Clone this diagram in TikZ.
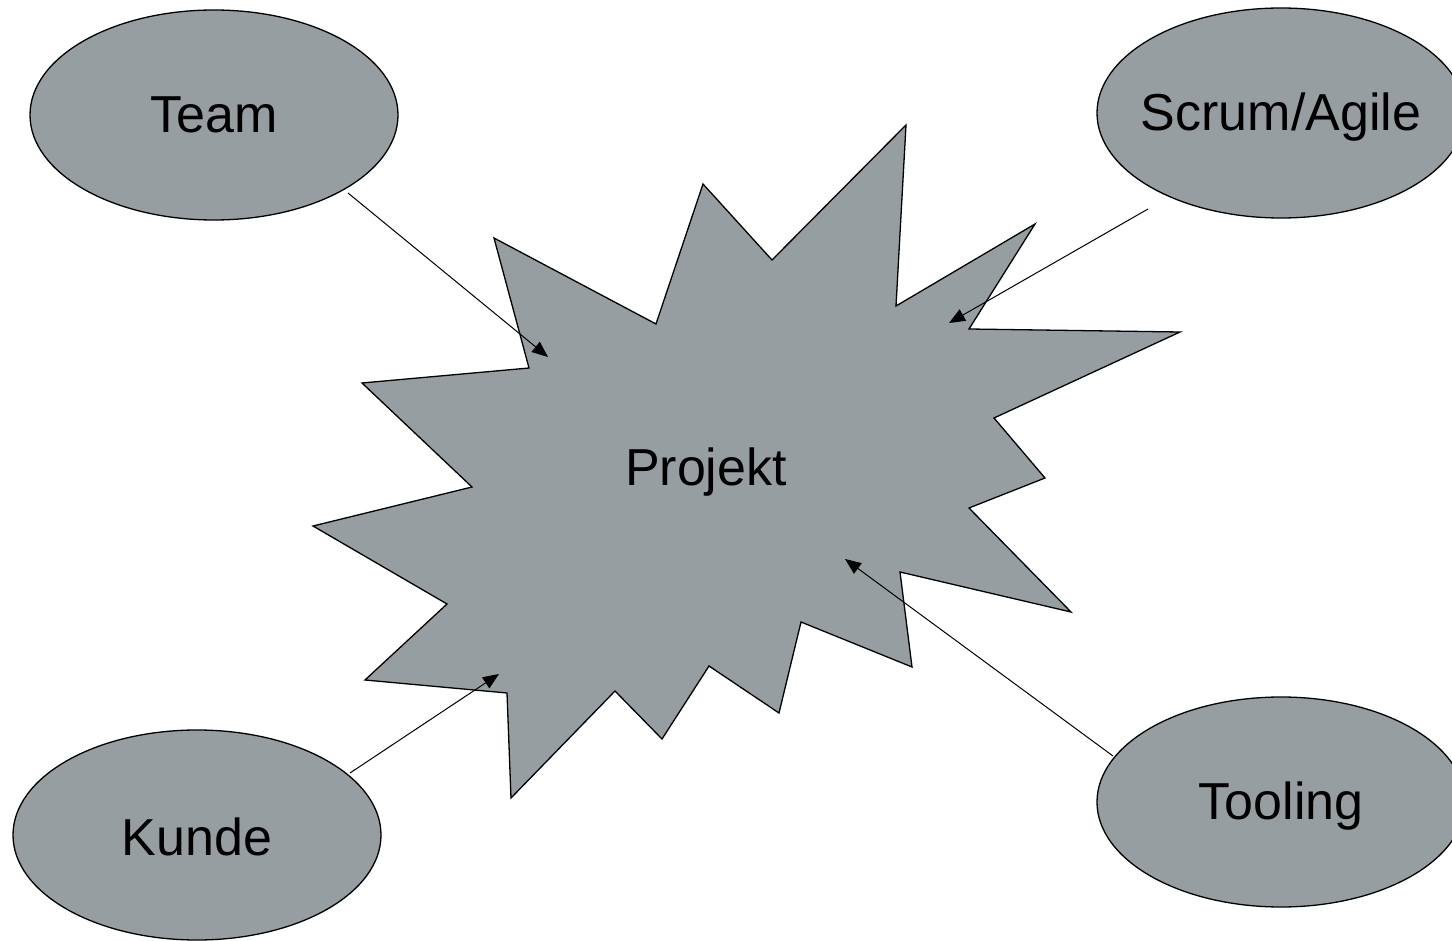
\documentclass[tikz,border=0pt]{standalone}
\usepackage{fontspec}
\setmainfont{Liberation Sans}
\usetikzlibrary{shapes.geometric,arrows.meta}
\definecolor{fillgray}{RGB}{151,158,161}
\tikzset{
  bubble/.style={ellipse, draw=black, line width=1.3pt, fill=fillgray, inner sep=0pt,
                 minimum width=368pt, minimum height=210pt},
  burst/.style={draw=black, line width=1.3pt, fill=fillgray, line join=miter},
  link/.style={draw=black, line width=1pt, -{Triangle[length=16pt,width=13pt]}},
  lbl/.style={font=\fontsize{52}{60}\selectfont, inner sep=0pt, anchor=base}
}
\begin{document}
\begin{tikzpicture}[x=1pt,y=-1pt]
\useasboundingbox (0,0) rectangle (1452,941);
\begin{scope}
\clip (0,0) rectangle (1452,941);
% star burst
\draw[burst] (494,238) -- (656,324) -- (703,184) -- (772,260) -- (906,125)
  -- (896,306) -- (1035,224) -- (969,329) -- (1180,332) -- (994,418)
  -- (1045,478) -- (969,508) -- (1071,612) -- (900,572) -- (912,667)
  -- (801,622) -- (779,713) -- (709,666) -- (662,739) -- (615,691)
  -- (511,798) -- (507,693) -- (365,680) -- (447,604) -- (313,526)
  -- (472,487) -- (362,383) -- (529,368) -- cycle;
\node[lbl] (proj) at (706,485) {Projekt};
% ellipses
\node[bubble] (team) at (214,115) {};
\node[bubble] (scrum) at (1281,113) {};
\node[bubble] (kunde) at (197,835) {};
\node[bubble] (tool) at (1281,802) {};
\node[lbl] (teamt) at (214,133) {Team};
\node[lbl] (scrumt) at (1281,131) {Scrum/Agile};
\node[lbl] (kundet) at (197,855) {Kunde};
\node[lbl] (toolt) at (1281,819) {Tooling};
\end{scope}
% connector end points
\coordinate (ta) at (348,193);
\coordinate (tb) at (548,357);
\coordinate (sa) at (1148,209);
\coordinate (sb) at (949,323);
\coordinate (ka) at (350,773);
\coordinate (kb) at (499,674);
\coordinate (oa) at (1113,756);
\coordinate (ob) at (845,559);
\draw[link] (ta) -- (tb);
\draw[link] (sa) -- (sb);
\draw[link] (ka) -- (kb);
\draw[link] (oa) -- (ob);
\end{tikzpicture}
\end{document}
